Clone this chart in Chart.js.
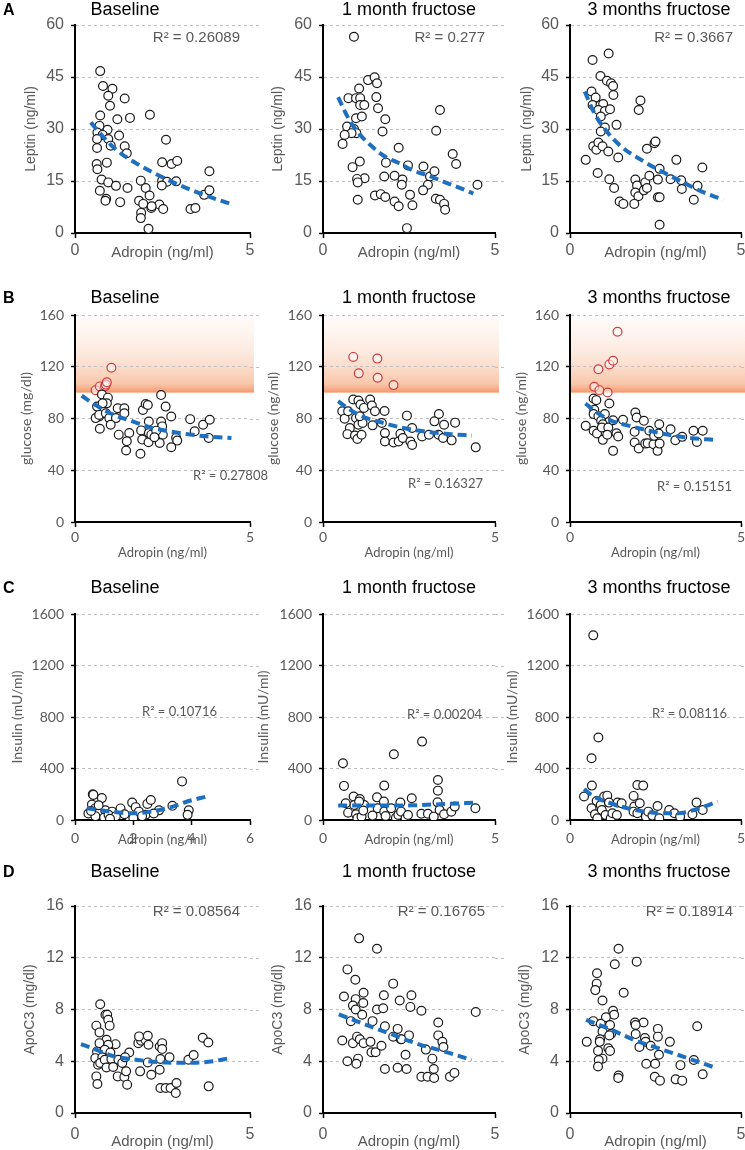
<!DOCTYPE html>
<html>
<head>
<meta charset="utf-8">
<script src="https://cdn.jsdelivr.net/npm/chart.js@4.4.0/dist/chart.umd.min.js"></script>
<style>
    html, body { margin: 0; padding: 0; background: #fff; }
    body { width: 745px; height: 1150px; position: relative; overflow: hidden; }
    canvas { position: absolute; }
</style>
</head>
<body>
<script>
// ---- data: [adropin, value] ----
const leptinBaseline = [[0.72,46.7],[0.80,42.4],[1.07,41.6],[0.95,39.6],[1.42,38.8],[1.00,36.7],[0.72,33.9],[1.21,32.8],[1.57,33.2],[2.14,34.1],[0.70,30.9],[0.93,29.8],[0.64,29.0],[0.79,28.3],[1.26,28.1],[0.95,27.1],[0.63,27.1],[1.02,25.2],[1.42,25.0],[0.63,24.5],[1.48,23.0],[2.60,26.9],[0.62,19.9],[0.91,20.3],[0.64,18.4],[2.49,20.4],[2.76,19.9],[2.92,20.8],[3.84,17.8],[0.76,15.4],[0.95,14.6],[1.17,13.6],[1.50,13.0],[1.88,15.1],[2.49,15.1],[2.63,14.8],[2.89,14.9],[2.48,13.7],[0.71,12.2],[2.02,13.0],[2.13,10.8],[0.89,9.9],[0.87,9.3],[1.29,8.9],[1.83,9.3],[1.95,8.4],[2.18,7.2],[2.41,8.2],[2.52,6.9],[1.89,5.8],[1.88,4.3],[3.30,6.9],[3.44,7.2],[3.69,11.0],[3.84,12.3],[2.10,1.2],[2.19,7.7]];
const leptinBaselineTrend = [[0.45,31.9],[0.8,27.8],[1.2,23.8],[1.7,20.4],[2.6,15.6],[3.6,11.3],[4.48,8.3]];

const leptin1m = [[0.90,56.6],[1.31,44.1],[1.50,44.9],[1.57,43.2],[1.05,41.7],[0.74,38.9],[0.96,38.9],[1.08,38.9],[1.55,39.2],[1.08,36.9],[1.20,36.9],[1.60,36.0],[0.96,33.1],[1.13,33.6],[1.81,32.8],[3.40,35.5],[0.70,30.7],[0.90,30.0],[0.97,28.8],[0.83,28.8],[0.63,28.3],[1.73,29.3],[3.29,29.5],[0.57,25.7],[2.20,24.6],[1.07,20.6],[0.86,19.0],[1.83,20.3],[2.47,19.5],[2.92,19.2],[3.77,22.8],[3.87,19.9],[1.78,16.3],[2.08,16.5],[1.21,15.8],[0.99,15.6],[1.01,14.6],[2.31,15.4],[2.29,13.9],[3.11,16.3],[3.24,17.8],[3.05,13.9],[2.91,12.3],[4.49,13.9],[1.01,9.6],[1.51,10.8],[1.68,11.2],[1.81,10.4],[2.08,9.1],[2.20,7.7],[2.53,11.0],[2.60,8.0],[3.28,9.9],[3.40,9.6],[3.52,8.4],[3.55,6.7],[2.44,1.4]];
const leptin1mTrend = [[0.44,39.2],[0.6,35.8],[0.8,32.0],[1.08,28.3],[1.42,25.0],[1.81,22.0],[2.2,20.2],[2.58,18.2],[3.07,16.5],[3.55,14.6],[4.03,12.8],[4.37,11.4]];

const leptin3m = [[1.13,51.8],[0.66,49.9],[0.89,45.3],[1.08,43.9],[1.20,43.2],[1.26,42.4],[0.63,40.8],[1.27,39.8],[0.75,39.1],[0.66,36.9],[0.89,36.9],[0.97,37.2],[0.83,35.5],[1.02,35.2],[1.17,35.7],[0.90,33.6],[2.06,38.2],[2.01,35.5],[1.36,31.2],[1.02,30.4],[0.90,29.3],[0.68,25.0],[0.77,24.0],[0.83,26.1],[0.95,25.0],[1.12,23.5],[1.41,21.8],[2.25,24.3],[2.47,25.9],[2.50,26.4],[0.46,21.1],[3.11,21.1],[3.87,18.9],[0.81,17.3],[1.15,15.5],[1.29,13.0],[1.91,15.4],[1.96,13.7],[2.20,14.6],[2.32,16.5],[2.62,18.5],[2.57,15.4],[2.94,15.5],[3.25,15.2],[3.27,12.7],[3.73,13.6],[1.91,11.7],[2.00,10.6],[2.16,12.3],[2.25,13.0],[1.45,9.1],[1.56,8.4],[1.88,8.4],[2.57,10.3],[2.62,10.3],[3.62,9.6],[2.62,2.4]];
const leptin3mTrend = [[0.43,40.8],[0.71,34.6],[1.0,30.2],[1.49,25.0],[2.08,21.1],[2.67,17.8],[3.25,14.9],[3.84,12.0],[4.48,9.6]];

const glucoseBaseline = [[0.77,98.6],[0.63,89.2],[0.94,96.1],[0.91,91.7],[0.79,91.7],[1.22,87.9],[1.41,87.9],[0.69,81.5],[0.59,80.3],[0.69,82.8],[0.88,84.1],[0.98,80.3],[1.17,80.3],[1.41,84.1],[1.02,75.2],[0.71,72.1],[1.25,67.5],[1.55,68.8],[1.48,62.4],[1.46,55.3],[1.87,52.7],[1.89,70.8],[1.94,86.6],[2.02,91.2],[2.08,90.4],[2.11,77.7],[1.92,63.7],[2.10,61.7],[2.11,68.8],[2.18,67.5],[2.46,98.1],[2.59,89.2],[2.46,77.7],[2.49,73.9],[2.51,67.5],[2.42,61.1],[2.75,81.5],[2.89,65.0],[2.92,62.9],[2.75,57.8],[3.29,79.5],[3.42,70.1],[3.66,75.2],[3.85,79.0],[3.82,65.0],[2.32,70.6],[2.27,65.5]];
const glucoseBaselineHigh = [[0.59,101.9],[0.71,104.8],[0.86,105.0],[0.88,106.2],[0.91,108.0],[1.04,119.2]];
const glucoseBaselineTrend = [[0.19,97.6],[0.59,90.4],[1.07,83.3],[1.65,77.7],[2.22,72.6],[2.99,68.8],[3.75,66.2],[4.47,65.0]];

const glucose1m = [[0.56,85.6],[0.63,79.9],[0.73,85.6],[0.88,94.7],[1.03,93.9],[1.09,90.8],[1.19,88.2],[0.96,80.4],[0.78,72.6],[0.71,67.9],[0.93,66.9],[1.00,64.1],[1.12,67.4],[1.03,75.2],[1.15,76.5],[1.07,81.7],[1.37,94.7],[1.42,90.0],[1.51,85.6],[1.44,74.7],[1.79,85.8],[1.71,76.5],[1.80,68.7],[1.80,62.2],[2.05,61.4],[2.20,62.2],[2.25,68.2],[2.32,64.9],[2.44,82.2],[2.54,62.2],[2.59,59.6],[2.59,72.6],[2.88,66.1],[3.08,67.4],[3.24,77.8],[3.37,83.5],[3.36,67.4],[3.52,75.2],[3.49,64.9],[3.74,63.1],[3.84,76.8],[4.44,57.7]];
const glucose1mHigh = [[0.88,127.6],[1.04,114.9],[1.58,126.3],[1.59,111.5],[2.05,105.8]];
const glucose1mTrend = [[0.44,93.4],[0.78,86.9],[1.17,81.2],[1.76,76.5],[2.34,72.6],[3.13,69.4],[3.71,67.9],[4.33,66.9]];

const glucose3m = [[0.69,95.5],[0.77,94.2],[1.15,91.6],[0.71,86.7],[0.69,83.4],[0.83,81.8],[1.02,83.4],[0.91,78.2],[0.96,75.6],[0.46,74.3],[0.69,70.5],[0.79,68.4],[0.93,73.0],[1.12,73.0],[0.96,63.5],[1.09,67.4],[1.26,78.7],[1.55,79.0],[1.36,68.6],[1.41,66.1],[1.26,55.0],[1.91,84.6],[1.95,80.8],[2.16,78.2],[1.89,69.7],[1.89,61.4],[2.01,56.8],[2.20,60.6],[2.27,60.9],[2.32,70.5],[2.44,60.1],[2.46,66.6],[2.56,55.0],[2.61,75.6],[2.62,60.6],[2.59,68.4],[2.94,71.7],[3.08,63.2],[3.28,65.8],[3.61,70.5],[3.88,70.5],[3.71,61.9]];
const glucose3mHigh = [[1.39,147.1],[0.83,118.1],[1.15,121.8],[1.26,124.6],[0.71,104.5],[0.86,101.9],[1.10,100.1]];
const glucose3mTrend = [[0.45,91.6],[0.79,84.6],[1.22,78.2],[1.74,74.3],[2.32,70.5],[2.89,67.4],[3.56,64.8],[4.23,63.5]];

const insulinBaseline = [[0.61,200],[0.63,195],[0.92,170],[0.58,120],[0.69,90],[0.81,50],[1.04,75],[1.27,65],[1.56,90],[1.96,135],[2.08,100],[2.19,65],[2.48,125],[2.6,155],[2.88,75],[3.34,110],[3.67,300],[3.9,75],[3.86,40],[2.42,40],[1.85,25],[0.46,50],[0.81,115],[0.7,30],[1.0,20],[1.15,40],[1.4,30],[1.7,45],[2.3,30],[2.7,50],[0.55,70],[1.2,10],[2.0,15]];
const insulinBaselineTrend = [[0.4,91],[1.0,72],[1.5,58],[2.0,52],[2.6,65],[3.3,100],[3.8,140],[4.5,182]];

const insulin1m = [[0.58,441],[2.88,609],[2.06,511],[0.61,265],[1.78,267],[3.34,311],[3.34,228],[0.89,182],[1.07,163],[1.57,176],[1.77,143],[2.58,169],[2.25,135],[3.33,137],[0.73,57],[0.96,44],[1.00,13],[1.12,26],[1.20,117],[1.17,73],[1.44,34],[1.59,91],[1.78,65],[1.82,31],[1.98,91],[2.12,18],[2.19,39],[2.27,65],[2.40,13],[2.47,39],[2.86,49],[3.05,49],[3.22,26],[3.39,78],[3.52,44],[3.73,65],[3.83,104],[4.43,91],[0.91,117],[1.05,143],[0.66,130]];
const insulin1mTrend = [[0.44,112],[1.59,112],[2.56,114],[3.54,124],[4.46,135]];

const insulin3m = [[0.68,1434],[0.83,641],[0.63,480],[0.64,267],[0.41,182],[0.78,148],[0.63,91],[0.73,44],[0.90,117],[0.93,78],[1.00,182],[1.09,189],[1.14,135],[1.04,39],[1.19,13],[1.24,52],[1.39,135],[1.51,130],[1.37,39],[1.86,187],[1.97,272],[2.14,267],[1.88,104],[2.04,130],[1.86,65],[1.97,52],[2.22,26],[2.29,65],[2.41,34],[2.56,109],[2.61,13],[2.90,78],[3.05,52],[3.22,26],[3.58,44],[3.70,135],[3.88,78],[0.80,13]];
const insulin3mTrend = [[0.41,239],[0.70,182],[1.19,130],[1.68,91],[2.17,65],[2.66,52],[3.14,52],[3.63,78],[4.32,143]];

const apoBaseline = [[0.72,8.41],[0.87,7.59],[0.92,7.59],[0.95,7.20],[0.99,6.75],[0.61,6.75],[0.70,6.23],[0.90,5.66],[1.16,5.32],[0.63,4.76],[0.70,5.40],[0.95,5.27],[0.85,4.89],[1.01,4.68],[0.58,4.24],[0.78,4.30],[0.66,3.73],[0.72,3.86],[0.85,4.12],[1.04,4.17],[0.90,3.52],[1.09,3.55],[1.24,4.12],[1.55,4.68],[1.35,3.86],[1.43,4.30],[1.22,2.83],[1.41,2.78],[1.46,3.22],[1.49,2.19],[0.61,2.83],[0.64,2.24],[1.81,5.40],[1.89,5.58],[2.01,5.66],[2.08,5.97],[1.83,5.92],[2.10,5.27],[1.86,3.22],[2.08,3.91],[2.18,2.96],[2.42,5.14],[2.49,5.40],[2.49,4.94],[2.44,4.17],[2.42,3.34],[2.44,1.93],[2.59,1.93],[2.73,1.93],[2.70,4.30],[2.90,2.32],[2.88,1.54],[3.24,4.12],[3.39,4.48],[3.65,5.82],[3.81,5.45],[3.82,2.06]];
const apoBaselineTrend = [[0.17,5.32],[0.6,4.9],[1.09,4.4],[1.8,4.1],[2.6,3.9],[3.36,3.88],[3.94,4.0],[4.42,4.24]];

const apo1m = [[1.05,13.5],[1.57,12.7],[0.71,11.1],[0.94,10.3],[2.04,10.0],[0.61,9.0],[0.95,8.8],[1.18,9.3],[1.77,9.1],[2.23,8.7],[2.57,9.1],[1.17,8.5],[0.87,8.3],[2.54,8.2],[2.86,7.9],[4.44,7.8],[0.95,8.0],[1.57,8.0],[1.75,8.1],[1.14,7.6],[0.81,7.1],[1.44,7.1],[1.80,6.7],[3.35,7.0],[2.17,6.5],[2.04,5.9],[2.26,5.7],[2.50,6.0],[3.35,6.0],[3.47,5.5],[3.50,5.1],[0.56,5.6],[0.87,5.4],[0.99,5.9],[1.07,5.7],[1.18,5.4],[1.38,5.5],[1.41,4.7],[1.53,4.7],[1.70,5.2],[2.99,4.9],[0.71,4.0],[1.02,4.2],[0.97,3.8],[2.40,4.5],[3.18,4.2],[3.22,3.4],[1.80,3.4],[2.17,3.5],[2.43,3.4],[2.86,2.8],[3.04,2.8],[3.23,2.7],[3.69,2.8],[3.82,3.1],[2.28,5.7]];
const apo1mTrend = [[0.46,7.63],[1.21,6.86],[1.99,6.09],[2.77,5.33],[3.54,4.74],[4.32,4.10]];

const apo3m = [[1.42,12.7],[1.95,11.7],[1.31,11.5],[0.79,10.8],[0.78,10.0],[0.74,9.5],[1.57,9.3],[0.95,8.7],[1.26,7.9],[1.29,7.6],[1.05,7.4],[0.68,7.1],[1.90,7.0],[2.15,7.0],[1.92,6.8],[0.90,6.9],[1.17,6.8],[3.72,6.7],[2.57,6.5],[0.95,6.3],[1.92,6.1],[1.20,6.1],[1.15,6.0],[2.57,5.9],[2.19,5.8],[0.88,5.7],[2.21,5.5],[2.92,5.5],[0.49,5.5],[0.87,5.5],[2.03,5.1],[2.36,5.2],[0.82,4.8],[1.12,5.0],[1.17,4.8],[0.95,4.2],[0.84,4.1],[2.60,4.5],[3.62,4.1],[0.82,3.6],[2.23,3.8],[2.49,3.8],[3.23,3.7],[3.88,3.0],[1.42,2.9],[1.41,2.7],[2.48,2.8],[2.63,2.5],[3.09,2.6],[3.28,2.5]];
const apo3mTrend = [[0.47,7.2],[1.15,6.5],[1.92,5.6],[2.70,4.9],[3.48,4.2],[4.25,3.5]];

const groupTitles = ['Baseline', '1 month fructose', '3 months fructose'];
const rowLetters = ['A', 'B', 'C', 'D'];
const yTitles = [
    ['Leptin (ng/ml)', 'Leptin (ng/ml)', 'Leptin (ng/ml)'],
    ['glucose (mg/dl)', 'glucose (ng/ml)', 'glucose (ng/ml)'],
    ['Insulin (mU/ml)', 'Insulin (mU/ml)', 'Insulin (mU/ml)'],
    ['ApoC3 (mg/dl)', 'ApoC3 (mg/dl)', 'ApoC3 (mg/dl)'],
];
const r2Labels = [
    ['R² = 0.26089', 'R² = 0.277', 'R² = 0.3667'],
    ['R² = 0.27808', 'R² = 0.16327', 'R² = 0.15151'],
    ['R² = 0.10716', 'R² = 0.00204', 'R² = 0.08116'],
    ['R² = 0.08564', 'R² = 0.16765', 'R² = 0.18914'],
];
const yMaxes = [60, 160, 1600, 16];
const ySteps = [15, 40, 400, 4];
const highRange = [100, 158];

const panelData = [
    [[leptinBaseline, null, leptinBaselineTrend], [leptin1m, null, leptin1mTrend], [leptin3m, null, leptin3mTrend]],
    [[glucoseBaseline, glucoseBaselineHigh, glucoseBaselineTrend], [glucose1m, glucose1mHigh, glucose1mTrend], [glucose3m, glucose3mHigh, glucose3mTrend]],
    [[insulinBaseline, null, insulinBaselineTrend], [insulin1m, null, insulin1mTrend], [insulin3m, null, insulin3mTrend]],
    [[apoBaseline, null, apoBaselineTrend], [apo1m, null, apo1mTrend], [apo3m, null, apo3mTrend]],
];

// ---- layout (page pixels) ----
const colL = [75, 323, 570], colR = [250, 495, 741];
const rowT = [25, 315, 614, 906], rowB = [233, 522, 820, 1113];
const titleY = [10, 298, 588, 872], titleX = [125, 409, 659];
const xTitleY = [253, 553, 840, 1142];
const xTickPad = [3, 2, 5, 7];
const yTitleOff = [[44, 45, 43], [49, 50, 49], [58, 60, 58], [45, 45, 45]];
const r2Pos = [
    [[240, 38, 'right'], [485, 38, 'right'], [733, 38, 'right']],
    [[193, 476, 'left'], [408, 484, 'left'], [657, 487, 'left']],
    [[142, 712, 'left'], [407, 715, 'left'], [652, 714, 'left']],
    [[240, 912, 'right'], [485, 912, 'right'], [733, 912, 'right']],
];
const arial = '"Liberation Sans", Arial, sans-serif';
const calibri = 'Lato, "Open Sans", sans-serif';
const rowFont = [arial, calibri, calibri, arial];
const tickSize = [16, 14, 14, 16];
const PADL = 76, PADR = 26, PADT = 52, PADB = 40;
const GRAY = '#595959';
const BLUE = '#1f6fc0';

const toXY = arr => arr.map(p => ({ x: p[0], y: p[1] }));

function makePanel(row, col) {
    const [pts, high, trend] = panelData[row][col];
    const L = colL[col], R = colR[col], T = rowT[row], B = rowB[row];
    const cx = L - PADL, cy = T - PADT;
    const canvas = document.createElement('canvas');
    canvas.width = R - L + PADL + PADR;
    canvas.height = B - T + PADT + PADB;
    canvas.style.left = cx + 'px';
    canvas.style.top = cy + 'px';
    document.body.appendChild(canvas);

    const xMax = (row === 2 && col === 0) ? 6 : 5;
    const xStep = xMax === 6 ? 2 : 5;
    const font = rowFont[row];
    const big = row === 0 || row === 3;

    const datasets = [
        {
            label: 'trend', data: toXY(trend), showLine: true, order: 0,
            borderColor: BLUE, borderWidth: 4, borderDash: [9, 5],
            pointRadius: 0, cubicInterpolationMode: 'monotone', fill: false,
        },
        {
            label: 'points', data: toXY(pts), order: 1,
            pointRadius: 4.4, pointBorderWidth: 1.2,
            borderColor: '#1a1a1a', backgroundColor: '#ffffff',
        },
    ];
    if (high) {
        datasets.push({
            label: 'high', data: toXY(high), order: 1,
            pointRadius: 4.4, pointBorderWidth: 1.2,
            borderColor: '#d23a3a', backgroundColor: 'rgba(255,255,255,0.5)',
        });
    }

    const decor = {
        id: 'decor',
        beforeDraw(chart) {
            if (!high) return;
            const { ctx, chartArea, scales } = chart;
            const y0 = scales.y.getPixelForValue(highRange[0]);
            const y1 = scales.y.getPixelForValue(highRange[1]);
            const g = ctx.createLinearGradient(0, y0, 0, y1);
            g.addColorStop(0, 'rgba(242,140,90,0.9)');
            g.addColorStop(0.12, 'rgba(246,175,135,0.7)');
            g.addColorStop(0.5, 'rgba(250,208,185,0.5)');
            g.addColorStop(1, 'rgba(253,236,226,0.25)');
            ctx.save();
            ctx.fillStyle = g;
            ctx.fillRect(chartArea.left + 1, y1, chartArea.right - chartArea.left + 3, y0 - y1);
            ctx.restore();
        },
        afterDraw(chart) {
            const { ctx, chartArea, scales } = chart;
            ctx.save();
            // grid lines run a little past the last x tick
            ctx.strokeStyle = '#bfbfbf';
            ctx.lineWidth = 1;
            ctx.setLineDash([3, 3]);
            scales.y.ticks.forEach(t => {
                if (t.value === 0) return;
                const y = Math.round(scales.y.getPixelForValue(t.value)) + 0.5;
                ctx.beginPath();
                ctx.moveTo(chartArea.right, y);
                ctx.lineTo(chartArea.right + 9, y);
                ctx.stroke();
            });
            ctx.setLineDash([]);

            if (col === 0) {
                ctx.fillStyle = '#000';
                ctx.font = 'bold 16px ' + arial;
                ctx.textAlign = 'left';
                ctx.textBaseline = 'middle';
                ctx.fillText(rowLetters[row], 3 - cx, titleY[row] + 1 - cy);
            }
            ctx.fillStyle = '#000';
            ctx.font = '18px ' + arial;
            ctx.textAlign = 'center';
            ctx.textBaseline = 'middle';
            ctx.fillText(groupTitles[col], titleX[col] - cx, titleY[row] - cy);

            const [rx, ry, ra] = r2Pos[row][col];
            ctx.fillStyle = GRAY;
            ctx.font = (big ? '15px ' : '13px ') + font;
            ctx.textAlign = ra;
            ctx.fillText(r2Labels[row][col], rx - cx, ry - cy);

            ctx.font = (big ? '15px ' : '13px ') + font;
            ctx.textAlign = 'center';
            ctx.fillText('Adropin (ng/ml)', (chartArea.left + chartArea.right) / 2, xTitleY[row] - cy);

            ctx.font = '14px ' + font;
            ctx.translate(chartArea.left - yTitleOff[row][col], (chartArea.top + chartArea.bottom) / 2);
            ctx.rotate(-Math.PI / 2);
            ctx.fillText(yTitles[row][col], 0, 0);
            ctx.restore();
        },
    };

    new Chart(canvas, {
        type: 'scatter',
        data: { datasets },
        options: {
            responsive: false,
            animation: false,
            devicePixelRatio: 1,
            layout: { padding: { left: 0, right: PADR, top: PADT, bottom: 0 } },
            plugins: { legend: { display: false }, tooltip: { enabled: false } },
            scales: {
                x: {
                    type: 'linear', min: 0, max: xMax,
                    ticks: { stepSize: xStep, color: GRAY, font: { family: font, size: tickSize[row] }, padding: xTickPad[row], maxRotation: 0, callback: v => String(v) },
                    grid: { drawOnChartArea: false, drawTicks: true, tickLength: 5, tickColor: '#000', tickWidth: 1.5 },
                    border: { color: '#000', width: 2 },
                    afterFit: s => { s.height = PADB; s.paddingLeft = 0; s.paddingRight = 0; },
                },
                y: {
                    type: 'linear', min: 0, max: yMaxes[row],
                    ticks: { stepSize: ySteps[row], color: GRAY, font: { family: font, size: tickSize[row] }, padding: 7, callback: v => String(v) },
                    grid: { color: '#bfbfbf', lineWidth: 1, tickLength: 4, tickColor: '#000', tickWidth: 1.5, tickBorderDash: [] },
                    border: { color: '#000', width: 2, dash: [3, 3] },
                    afterFit: s => { s.width = PADL; s.paddingTop = 0; s.paddingBottom = 0; },
                },
            },
        },
        plugins: [decor],
    });
}

for (let r = 0; r < 4; r++) {
    for (let c = 0; c < 3; c++) makePanel(r, c);
}
</script>
</body>
</html>
